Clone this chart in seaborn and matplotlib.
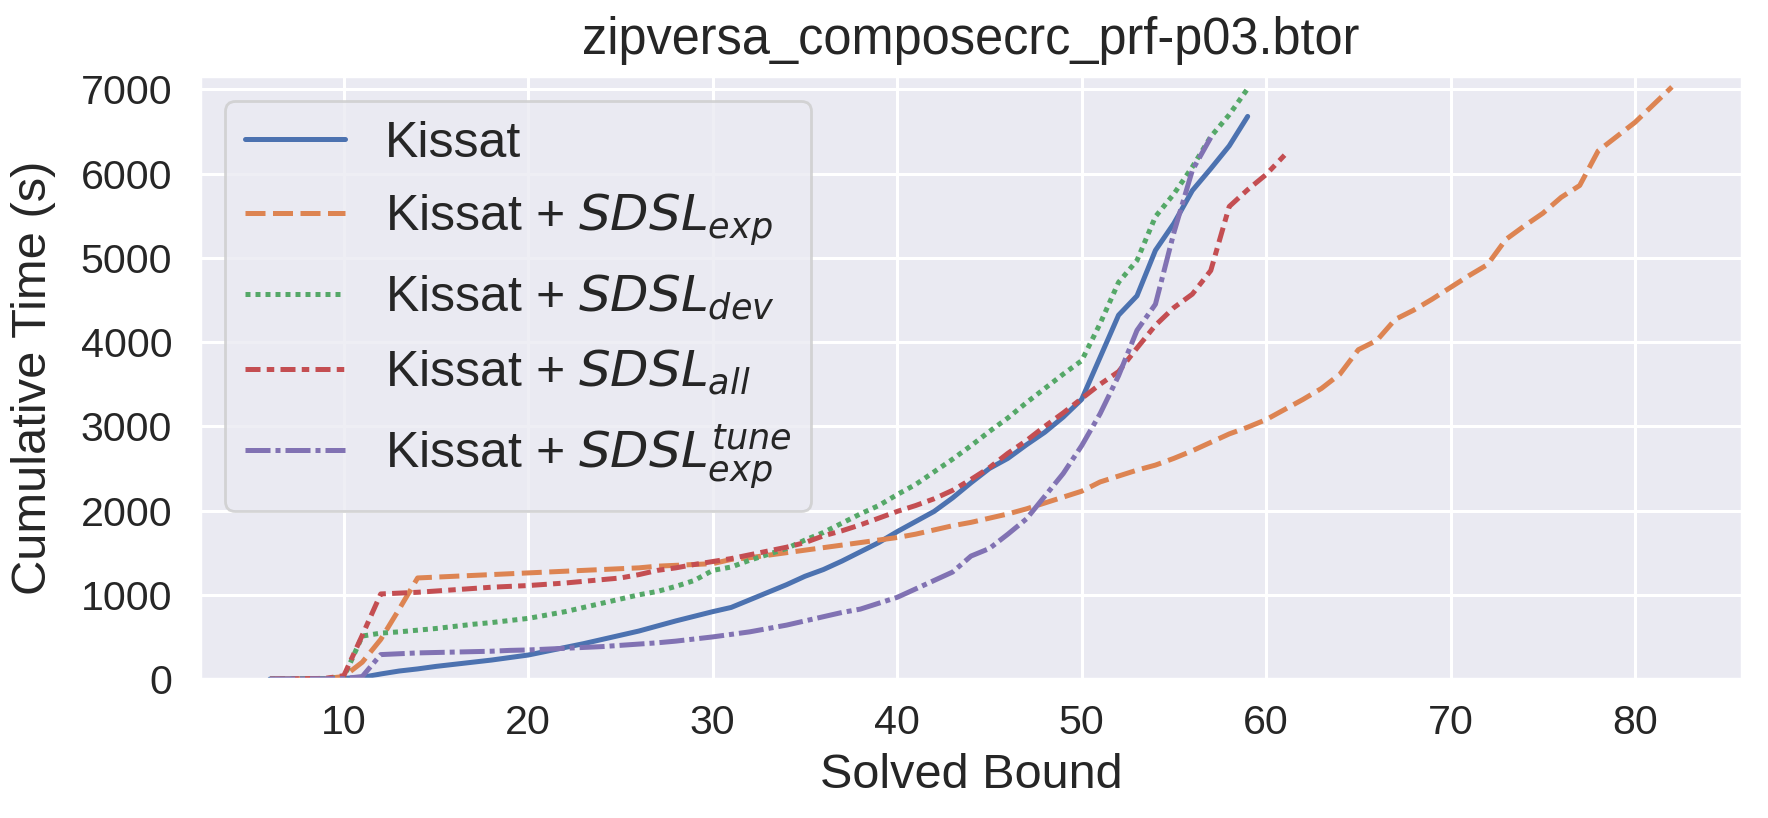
import pandas as pd
import matplotlib
matplotlib.use("Agg")
import matplotlib.pyplot as plt
import seaborn as sns

bounds_kissat = list(range(6, 60))
kissat = [0, 1, 2, 4, 8, 20, 60, 95, 120, 150, 175, 200, 225, 255, 285, 330, 375, 420,
          470, 520, 570, 630, 690, 745, 800, 850, 940, 1030, 1120, 1220, 1300, 1400, 1510,
          1620, 1750, 1870, 1990, 2150, 2330, 2500, 2620, 2780, 2930, 3110, 3320, 3820,
          4320, 4550, 5090, 5410, 5800, 6060, 6330, 6680]

bounds_exp = list(range(6, 83))
sdsl_exp = [0, 1, 2, 5, 30, 200, 470, 830, 1200, 1210, 1220, 1230, 1240, 1250, 1260,
            1270, 1280, 1290, 1300, 1310, 1320, 1340, 1350, 1360, 1370, 1420, 1440, 1470,
            1500, 1530, 1560, 1590, 1620, 1650, 1680, 1720, 1770, 1820, 1860, 1910, 1960,
            2020, 2090, 2160, 2230, 2340, 2410, 2480, 2540, 2620, 2710, 2810, 2910, 2990,
            3080, 3200, 3320, 3450, 3620, 3910, 4020, 4270, 4380, 4510, 4650, 4790, 4920,
            5220, 5380, 5530, 5720, 5860, 6270, 6440, 6610, 6820, 7030]

bounds_dev = list(range(6, 60))
sdsl_dev = [0, 1, 3, 6, 20, 510, 545, 560, 580, 600, 625, 650, 670, 695, 720, 760, 800,
            850, 900, 950, 1000, 1040, 1100, 1170, 1290, 1330, 1410, 1480, 1550, 1650, 1740,
            1850, 1960, 2060, 2190, 2310, 2460, 2610, 2770, 2940, 3100, 3280, 3450, 3620,
            3780, 4220, 4710, 4970, 5490, 5760, 6080, 6440, 6700, 7010]

bounds_all = list(range(6, 62))
sdsl_all = [0, 2, 4, 8, 40, 520, 1010, 1020, 1030, 1045, 1060, 1075, 1090, 1100, 1110,
            1125, 1140, 1160, 1180, 1200, 1240, 1290, 1320, 1360, 1395, 1430, 1475, 1520,
            1565, 1620, 1700, 1760, 1830, 1910, 1990, 2060, 2140, 2240, 2370, 2510, 2680,
            2830, 3000, 3160, 3330, 3500, 3650, 3930, 4200, 4410, 4570, 4850, 5610, 5810,
            5990, 6220]

bounds_tune = list(range(6, 58))
sdsl_tune = [0, 1, 2, 3, 5, 30, 290, 300, 310, 315, 320, 325, 330, 340, 345, 355, 365,
             375, 385, 400, 415, 430, 450, 475, 500, 530, 560, 600, 640, 690, 740, 790,
             830, 900, 970, 1070, 1170, 1270, 1460, 1550, 1720, 1900, 2170, 2440, 2770,
             3150, 3600, 4140, 4450, 5300, 6040, 6430]

labels = ["Kissat", "Kissat + $SDSL_{exp}$", "Kissat + $SDSL_{dev}$",
          "Kissat + $SDSL_{all}$", "Kissat + $SDSL_{exp}^{tune}$"]
yticks = [0, 1000, 2000, 3000, 4000, 5000, 6000, 7000]

parts = []
for lab, xs, ys in zip(labels,
                       [bounds_kissat, bounds_exp, bounds_dev, bounds_all, bounds_tune],
                       [kissat, sdsl_exp, sdsl_dev, sdsl_all, sdsl_tune]):
    parts.append(pd.DataFrame({"bound": xs, "time": ys, "solver": lab}))
df = pd.concat(parts, ignore_index=True)

sns.set_theme(style="darkgrid")
plt.rcParams["font.family"] = ["Liberation Sans", "DejaVu Sans"]
plt.rcParams["grid.linewidth"] = 1.1

fig = plt.figure(figsize=(8.84, 4.09), dpi=200)
ax = fig.add_axes([0.1131, 0.1699, 0.8722, 0.7372])
sns.lineplot(data=df, x="bound", y="time", hue="solver", style="solver",
             linewidth=1.8, ax=ax)

ax.set_ylim(0, 7160)
ax.set_yticks(yticks)
ax.set_title("zipversa_composecrc_prf-p03.btor", fontsize=18.2, pad=8)
ax.set_xlabel("Solved Bound", fontsize=17.5)
ax.set_ylabel("Cumulative Time (s)", fontsize=17.6, labelpad=9)
ax.tick_params(labelsize=14.8, length=0, pad=10)
ax.tick_params(axis="x", pad=9)
ax.legend(loc="upper left", fontsize=18)

fig.savefig("out.png", dpi=200)
